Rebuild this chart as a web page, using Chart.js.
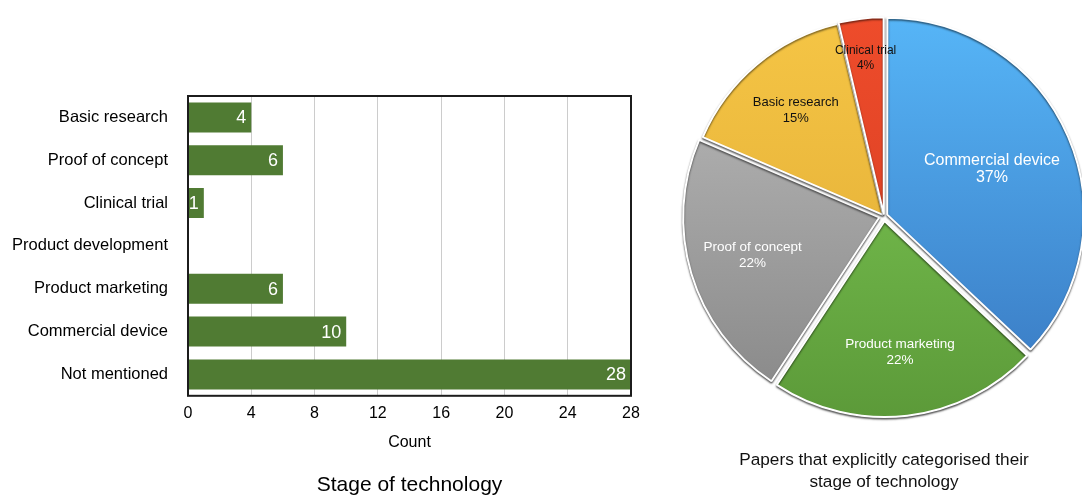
<!DOCTYPE html>
<html>
<head>
<meta charset="utf-8">
<title>Stage of technology</title>
<script src="https://cdn.jsdelivr.net/npm/chart.js@4.4.0/dist/chart.umd.min.js"></script>
<style>
    html, body { margin: 0; padding: 0; background: #fff; overflow: hidden; }
    #stage { position: relative; width: 1082px; height: 498px; overflow: hidden; }
    .panel { position: absolute; top: 0; height: 498px; }
    #barPanel { left: 0; width: 660px; }
    #piePanel { left: 674px; width: 420px; }
</style>
</head>
<body>
<div id="stage">
    <div class="panel" id="barPanel"><canvas id="stageChart"></canvas></div>
    <div class="panel" id="piePanel"><canvas id="stagePie"></canvas></div>
</div>
<script>
/* --------------------------------------------------------------------------
   Data
   -------------------------------------------------------------------------- */
const stages = [
    'Basic research',
    'Proof of concept',
    'Clinical trial',
    'Product development',
    'Product marketing',
    'Commercial device',
    'Not mentioned'
];
const stageCounts = [4, 6, 1, 0, 6, 10, 28];
const countTicks = [0, 4, 8, 12, 16, 20, 24, 28];

const pieStages = ['Commercial device', 'Product marketing', 'Proof of concept', 'Basic research', 'Clinical trial'];
const pieCounts = [10, 6, 6, 4, 1];

/* --------------------------------------------------------------------------
   Shared settings
   -------------------------------------------------------------------------- */
const FONT = '"Liberation Sans", Arial, Helvetica, sans-serif';
Chart.defaults.font.family = FONT;
Chart.defaults.color = '#000';

const BAR_GREEN = '#507b33';
const PIE_RADIUS = 196;

// top / bottom shade for each slice, gives the pie its lit look
const sliceShades = [
    ['#56b5f7', '#3877c0'],
    ['#80cd57', '#5c9a39'],
    ['#bcbcbc', '#878787'],
    ['#f5c545', '#dfa933'],
    ['#ee4c2b', '#d23a20']
];
// Chart.js moves an arc out by a quarter of its offset
const sliceOffsets = [14, 20, 20, 6, 6];

// in-slice label look: text colour, font size, line gap, distance from centre (share of radius)
const pieLabelStyle = [
    { color: '#fff', size: 16, gap: 17, at: 0.6 },
    { color: '#fff', size: 13.5, gap: 16, at: 0.7 },
    { color: '#fff', size: 13.5, gap: 16, at: 0.7 },
    { color: '#111', size: 13, gap: 16, at: 0.7 },
    { color: '#111', size: 12, gap: 15, at: 0.81 }
];

/* --------------------------------------------------------------------------
   Plugins
   -------------------------------------------------------------------------- */

/**
 * White value written at the end of each bar
 */
const barValueLabels = {
    id: 'barValueLabels',
    afterDatasetsDraw(chart) {
        const { ctx } = chart;
        const values = chart.data.datasets[0].data;
        ctx.save();
        ctx.font = '18px ' + FONT;
        ctx.fillStyle = '#fff';
        ctx.textAlign = 'right';
        ctx.textBaseline = 'middle';
        chart.getDatasetMeta(0).data.forEach((bar, i) => {
            if (!values[i]) return;
            ctx.fillText(String(values[i]), bar.x - 5, bar.y + 1);
        });
        ctx.restore();
    }
};

/**
 * Black frame round the plot area
 */
const plotFrame = {
    id: 'plotFrame',
    afterDraw(chart) {
        const { ctx, chartArea: a } = chart;
        ctx.save();
        ctx.strokeStyle = '#1c1c1c';
        ctx.lineWidth = 2;
        ctx.strokeRect(a.left, a.top, a.right - a.left, a.bottom - a.top);
        ctx.restore();
    }
};

/**
 * Tight drop shadow under the pie slices
 */
const sliceShadow = {
    id: 'sliceShadow',
    beforeDatasetDraw(chart) {
        const { ctx } = chart;
        ctx.save();
        ctx.shadowColor = 'rgba(0, 0, 0, 0.6)';
        ctx.shadowBlur = 2;
        ctx.shadowOffsetX = 0;
        ctx.shadowOffsetY = 1.5;
    },
    afterDatasetDraw(chart) {
        chart.ctx.restore();
    }
};

/**
 * Name and share written inside each slice
 */
const sliceLabels = {
    id: 'sliceLabels',
    afterDatasetsDraw(chart) {
        const { ctx } = chart;
        const values = chart.data.datasets[0].data;
        const total = values.reduce((s, v) => s + v, 0);
        ctx.save();
        ctx.textAlign = 'center';
        ctx.textBaseline = 'middle';
        chart.getDatasetMeta(0).data.forEach((arc, i) => {
            const { x, y, startAngle, endAngle, outerRadius } =
                arc.getProps(['x', 'y', 'startAngle', 'endAngle', 'outerRadius'], true);
            const style = pieLabelStyle[i];
            const mid = (startAngle + endAngle) / 2;
            const px = x + Math.cos(mid) * outerRadius * style.at;
            const py = y + Math.sin(mid) * outerRadius * style.at;
            ctx.font = style.size + 'px ' + FONT;
            ctx.fillStyle = style.color;
            ctx.fillText(chart.data.labels[i], px, py - style.gap / 2);
            ctx.fillText(Math.round(values[i] / total * 100) + '%', px, py + style.gap / 2);
        });
        ctx.restore();
    }
};

/* --------------------------------------------------------------------------
   Charts
   -------------------------------------------------------------------------- */

/**
 * Horizontal bar chart of all stages
 */
const createStageChart = () => {
    const ctx = document.getElementById('stageChart').getContext('2d');
    return new Chart(ctx, {
        type: 'bar',
        data: {
            labels: stages,
            datasets: [{
                data: stageCounts,
                backgroundColor: BAR_GREEN,
                borderWidth: 0,
                barPercentage: 0.7,
                categoryPercentage: 1
            }]
        },
        options: {
            indexAxis: 'y',
            responsive: true,
            maintainAspectRatio: false,
            animation: false,
            layout: { padding: { top: 96, right: 29, left: 0, bottom: 0 } },
            scales: {
                x: {
                    min: countTicks[0],
                    max: countTicks[countTicks.length - 1],
                    z: 1,
                    afterBuildTicks: (scale) => {
                        scale.ticks = countTicks.map(v => ({ value: v }));
                    },
                    afterFit: (scale) => { scale.height = 77; },
                    grid: { color: 'rgba(0, 0, 0, 0.2)', drawTicks: false },
                    border: { display: false },
                    ticks: { font: { size: 16 }, padding: 8, color: '#000' },
                    title: {
                        display: true,
                        text: 'Count',
                        font: { size: 16 },
                        color: '#000',
                        padding: { top: 0, bottom: 21 }
                    }
                },
                y: {
                    afterFit: (scale) => { scale.width = 188; },
                    grid: { display: false, drawTicks: false },
                    border: { display: false },
                    ticks: { font: { size: 16.5 }, padding: 20, color: '#000' }
                }
            },
            plugins: {
                legend: { display: false },
                tooltip: { enabled: false },
                title: {
                    display: true,
                    position: 'bottom',
                    fullSize: false,
                    text: 'Stage of technology',
                    font: { size: 21, weight: 'normal' },
                    color: '#000',
                    padding: 0
                }
            }
        },
        plugins: [barValueLabels, plotFrame]
    });
};

/**
 * Pie of papers that named their stage
 */
const createStagePie = () => {
    const ctx = document.getElementById('stagePie').getContext('2d');
    return new Chart(ctx, {
        type: 'pie',
        data: {
            labels: pieStages,
            datasets: [{
                data: pieCounts,
                backgroundColor: (c) => {
                    const [top, bottom] = sliceShades[c.dataIndex];
                    const area = c.chart.chartArea;
                    if (!area) return top;
                    const cy = (area.top + area.bottom) / 2;
                    const g = c.chart.ctx.createLinearGradient(0, cy - PIE_RADIUS, 0, cy + PIE_RADIUS);
                    g.addColorStop(0, top);
                    g.addColorStop(1, bottom);
                    return g;
                },
                borderColor: '#fff',
                borderWidth: 2,
                offset: sliceOffsets,
                clip: false
            }]
        },
        options: {
            responsive: true,
            maintainAspectRatio: false,
            animation: false,
            radius: PIE_RADIUS,
            layout: { padding: 0 },
            plugins: {
                legend: { display: false },
                tooltip: { enabled: false },
                title: {
                    display: true,
                    position: 'bottom',
                    text: ['Papers that explicitly categorised their', 'stage of technology'],
                    font: { size: 17.2, weight: 'normal', lineHeight: 1.25 },
                    color: '#111',
                    padding: { top: 18, bottom: 5 }
                }
            }
        },
        plugins: [sliceShadow, sliceLabels]
    });
};

createStageChart();
createStagePie();
</script>
</body>
</html>
